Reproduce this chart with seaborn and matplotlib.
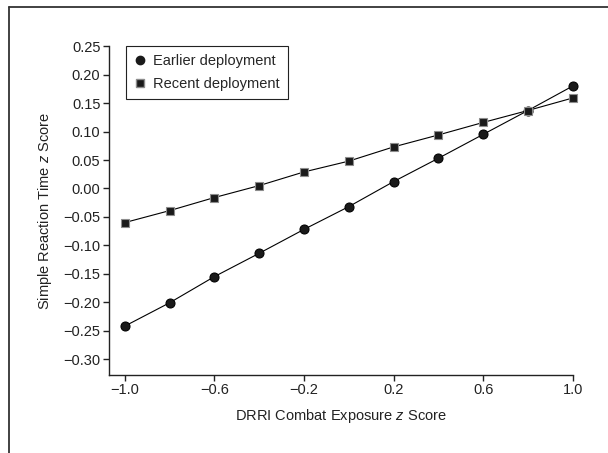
import pandas as pd
import matplotlib
matplotlib.use("Agg")
import matplotlib.pyplot as plt
from matplotlib.lines import Line2D
import seaborn as sns

# DRRI combat exposure z score on the x axis
exposure = [-1.0, -0.8, -0.6, -0.4, -0.2, 0.0, 0.2, 0.4, 0.6, 0.8, 1.0]

# Simple reaction time z score for each group
earlier = [-0.242, -0.201, -0.155, -0.114, -0.072, -0.032, 0.012, 0.053, 0.095, 0.137, 0.180]
recent = [-0.060, -0.039, -0.016, 0.005, 0.029, 0.048, 0.073, 0.094, 0.116, 0.137, 0.159]

group_names = ["Earlier deployment", "Recent deployment"]
x_ticks = [-1.0, -0.6, -0.2, 0.2, 0.6, 1.0]
y_ticks = [-0.30, -0.25, -0.20, -0.15, -0.10, -0.05, 0.00, 0.05, 0.10, 0.15, 0.20, 0.25]


def build_frame():
    # long format table for seaborn
    df = pd.DataFrame({
        "exposure": exposure * 2,
        "rt": earlier + recent,
        "group": [group_names[0]] * len(earlier) + [group_names[1]] * len(recent),
    })
    return df


def main():
    sns.set_style("ticks")
    plt.rcParams["font.family"] = ["Liberation Sans", "DejaVu Sans"]
    plt.rcParams["mathtext.fontset"] = "custom"
    plt.rcParams["mathtext.it"] = "Liberation Sans:italic"
    plt.rcParams["mathtext.rm"] = "Liberation Sans"

    fs = 10.5
    df = build_frame()

    fig = plt.figure(figsize=(6.08, 4.53), dpi=100)
    ax = fig.add_axes([0.179, 0.172, 0.763, 0.726])

    # earlier deployment: circles
    sns.lineplot(data=df[df["group"] == group_names[0]], x="exposure", y="rt",
                 ax=ax, color="black", linewidth=0.8, marker="o", markersize=6.5,
                 markeredgecolor="black", markerfacecolor="#1a1a1a", legend=False,
                 clip_on=False)
    # recent deployment: squares with grey edge
    sns.lineplot(data=df[df["group"] == group_names[1]], x="exposure", y="rt",
                 ax=ax, color="black", linewidth=0.8, marker="s", markersize=6,
                 markeredgecolor="#8c8c8c", markeredgewidth=0.8,
                 markerfacecolor="#1a1a1a", legend=False, clip_on=False)

    ax.set_xlim(-1.071, 1.0)
    ax.set_ylim(-0.328, 0.25)
    ax.set_xticks(x_ticks)
    ax.set_xticklabels([f"{t:.1f}".replace("-", "\u2212") for t in x_ticks])
    ax.set_yticks(y_ticks)
    ax.set_yticklabels([f"{t:.2f}".replace("-", "\u2212") for t in y_ticks])
    ax.tick_params(axis="both", direction="out", length=4, width=1, labelsize=fs,
                   color="#222222", labelcolor="#222222", pad=2)
    for side in ["top", "right"]:
        ax.spines[side].set_visible(False)
    for side in ["left", "bottom"]:
        ax.spines[side].set_linewidth(1.0)
        ax.spines[side].set_color("#222222")

    ax.set_xlabel("DRRI Combat Exposure $\\it{z}$ Score", fontsize=fs, color="#222222", labelpad=7)
    ax.set_ylabel("Simple Reaction Time $\\it{z}$ Score", fontsize=fs, color="#222222", labelpad=7)

    handles = [
        Line2D([], [], linestyle="none", marker="o", markersize=6, color="#1a1a1a"),
        Line2D([], [], linestyle="none", marker="s", markersize=5.5, color="#1a1a1a",
               markeredgecolor="#8c8c8c"),
    ]
    leg = ax.legend(handles, group_names, loc="upper left", bbox_to_anchor=(0.037, 1.0),
                    fontsize=fs, frameon=True, fancybox=False, framealpha=1,
                    edgecolor="#222222", handlelength=0.8, handletextpad=0.5,
                    borderpad=0.55, labelspacing=0.6, borderaxespad=0)
    leg.get_frame().set_linewidth(0.8)

    # outer border lines (top and left) like the cropped figure frame
    fig.add_artist(Line2D([9 / 608, 1.0], [1 - 7 / 453, 1 - 7 / 453],
                          transform=fig.transFigure, color="#333333", linewidth=1.3))
    fig.add_artist(Line2D([9 / 608, 9 / 608], [0.0, 1 - 7 / 453],
                          transform=fig.transFigure, color="#333333", linewidth=1.3))

    fig.savefig("out.png", dpi=100)


if __name__ == "__main__":
    main()
